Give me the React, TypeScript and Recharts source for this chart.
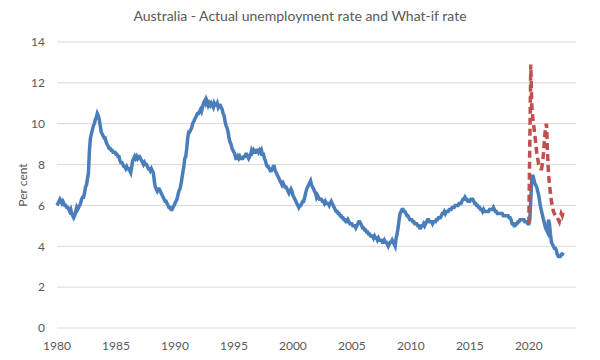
import React from 'react';
import { LineChart, Line, XAxis, YAxis, CartesianGrid } from 'recharts';

// monthly unemployment rate, Jan 1980 .. Dec 2022 (one row per year)
const startYear = 1980;
const actualRate = [
  6.0, 6.1, 6.2, 6.3, 6.2, 6.1, 6.2, 6.1, 6.0, 6.0, 5.9, 5.9, // 1980
  5.8, 5.7, 5.8, 5.6, 5.5, 5.4, 5.5, 5.7, 5.9, 5.8, 5.9, 6.0, // 1981
  6.1, 6.3, 6.4, 6.4, 6.6, 6.9, 7.0, 7.3, 7.6, 8.7, 9.3, 9.5, // 1982
  9.7, 9.9, 10.0, 10.2, 10.3, 10.5, 10.4, 10.2, 9.9, 9.6, 9.5, 9.4, // 1983
  9.3, 9.3, 9.1, 9.0, 8.9, 8.8, 8.8, 8.7, 8.7, 8.6, 8.6, 8.6, // 1984
  8.5, 8.5, 8.4, 8.4, 8.2, 8.1, 8.1, 8.0, 7.9, 7.9, 7.8, 7.9, // 1985
  7.8, 7.8, 7.7, 7.6, 7.9, 8.2, 8.3, 8.4, 8.3, 8.4, 8.3, 8.4, // 1986
  8.4, 8.3, 8.2, 8.1, 8.0, 8.1, 8.0, 8.0, 7.9, 7.8, 7.8, 7.7, // 1987
  7.8, 7.7, 7.6, 7.2, 6.9, 6.8, 6.7, 6.8, 6.8, 6.7, 6.6, 6.5, // 1988
  6.4, 6.3, 6.2, 6.2, 6.1, 6.0, 5.9, 5.9, 5.8, 5.8, 5.9, 6.0, // 1989
  6.1, 6.2, 6.3, 6.5, 6.7, 6.8, 7.0, 7.3, 7.6, 7.9, 8.3, 8.4, // 1990
  8.8, 9.3, 9.6, 9.6, 9.7, 9.8, 10.0, 10.1, 10.2, 10.3, 10.4, 10.5, // 1991
  10.5, 10.6, 10.7, 10.6, 10.8, 11.0, 11.1, 11.0, 11.2, 11.1, 10.9, 11.0, // 1992
  10.9, 11.0, 10.9, 10.8, 11.0, 10.9, 10.9, 11.0, 10.8, 10.9, 10.9, 10.8, // 1993
  10.7, 10.5, 10.4, 10.1, 9.9, 9.8, 9.6, 9.3, 9.1, 9.0, 8.8, 8.7, // 1994
  8.6, 8.5, 8.3, 8.3, 8.4, 8.3, 8.4, 8.3, 8.3, 8.3, 8.4, 8.4, // 1995
  8.5, 8.5, 8.4, 8.3, 8.4, 8.5, 8.7, 8.6, 8.7, 8.6, 8.6, 8.7, // 1996
  8.7, 8.6, 8.7, 8.6, 8.7, 8.5, 8.5, 8.3, 8.2, 8.0, 7.9, 7.9, // 1997
  7.8, 7.7, 7.7, 7.8, 7.9, 7.9, 7.7, 7.6, 7.5, 7.4, 7.3, 7.2, // 1998
  7.1, 7.0, 7.1, 7.0, 6.9, 6.9, 6.8, 6.7, 6.6, 6.7, 6.8, 6.7, // 1999
  6.5, 6.4, 6.3, 6.2, 6.1, 6.0, 5.9, 6.0, 6.0, 6.1, 6.2, 6.2, // 2000
  6.4, 6.6, 6.8, 6.9, 7.0, 7.1, 7.2, 7.0, 6.9, 6.8, 6.7, 6.6, // 2001
  6.4, 6.5, 6.4, 6.3, 6.3, 6.3, 6.2, 6.2, 6.1, 6.2, 6.1, 6.1, // 2002
  6.1, 6.0, 6.1, 6.2, 6.1, 6.0, 5.9, 5.8, 5.7, 5.7, 5.6, 5.6, // 2003
  5.5, 5.5, 5.4, 5.4, 5.3, 5.3, 5.2, 5.2, 5.3, 5.2, 5.1, 5.1, // 2004
  5.1, 5.0, 5.0, 5.0, 4.9, 5.0, 5.1, 5.2, 5.2, 5.1, 5.0, 4.9, // 2005
  4.9, 4.8, 4.8, 4.7, 4.7, 4.6, 4.6, 4.5, 4.5, 4.5, 4.4, 4.5, // 2006
  4.4, 4.4, 4.3, 4.4, 4.3, 4.3, 4.3, 4.2, 4.2, 4.3, 4.2, 4.2, // 2007
  4.1, 4.0, 4.1, 4.2, 4.2, 4.3, 4.2, 4.1, 4.0, 4.4, 4.6, 4.9, // 2008
  5.3, 5.6, 5.7, 5.8, 5.8, 5.7, 5.7, 5.6, 5.5, 5.5, 5.4, 5.3, // 2009
  5.3, 5.3, 5.2, 5.2, 5.1, 5.1, 5.1, 5.0, 5.0, 4.9, 4.9, 5.0, // 2010
  5.0, 5.1, 5.0, 5.1, 5.2, 5.3, 5.3, 5.2, 5.2, 5.2, 5.1, 5.2, // 2011
  5.2, 5.2, 5.3, 5.3, 5.4, 5.4, 5.4, 5.5, 5.6, 5.6, 5.7, 5.6, // 2012
  5.7, 5.7, 5.7, 5.8, 5.8, 5.8, 5.9, 5.9, 5.9, 6.0, 6.0, 6.0, // 2013
  6.0, 6.1, 6.1, 6.1, 6.2, 6.3, 6.3, 6.4, 6.3, 6.3, 6.2, 6.2, // 2014
  6.2, 6.3, 6.3, 6.3, 6.2, 6.1, 6.1, 6.0, 6.0, 5.9, 5.9, 5.8, // 2015
  5.8, 5.7, 5.8, 5.7, 5.7, 5.7, 5.7, 5.7, 5.8, 5.8, 5.8, 5.8, // 2016
  5.9, 5.8, 5.7, 5.7, 5.6, 5.6, 5.6, 5.6, 5.6, 5.6, 5.5, 5.5, // 2017
  5.5, 5.5, 5.5, 5.5, 5.4, 5.4, 5.3, 5.1, 5.1, 5.0, 5.0, 5.1, // 2018
  5.1, 5.2, 5.2, 5.3, 5.3, 5.3, 5.3, 5.3, 5.2, 5.2, 5.2, 5.1, // 2019
  5.1, 5.3, 6.3, 7.3, 7.5, 7.3, 7.1, 7.0, 6.9, 6.7, 6.5, 6.2, // 2020
  5.9, 5.7, 5.5, 5.3, 5.1, 4.9, 4.8, 4.7, 5.3, 5.1, 4.6, 4.2, // 2021
  4.1, 4.0, 3.9, 3.9, 3.8, 3.6, 3.5, 3.5, 3.5, 3.6, 3.6, 3.7, // 2022
];

// what-if rate, Jan 2020 .. Dec 2022
const whatIfStartYear = 2020;
const whatIfRate = [
  5.1, 9.0, 12.9, 10.9, 10.3, 9.9, 9.5, 9.1, 8.6, 8.3, 8.0, 7.9, // 2020
  7.8, 7.8, 8.1, 8.6, 9.3, 9.8, 10.0, 8.6, 7.6, 7.0, 6.6, 6.2, // 2021
  6.0, 5.7, 5.6, 5.5, 5.5, 5.4, 5.3, 5.2, 5.4, 5.6, 5.5, 5.7, // 2022
];

const xTicks = [1980, 1985, 1990, 1995, 2000, 2005, 2010, 2015, 2020];
const yTicks = [0, 2, 4, 6, 8, 10, 12, 14];

const whatIfOffset = (whatIfStartYear - startYear) * 12;
const data = actualRate.map((v, i) => ({
  t: startYear + i / 12,
  actual: v,
  whatIf: i >= whatIfOffset ? whatIfRate[i - whatIfOffset] : undefined,
}));

const font = 'Lato, "Open Sans", sans-serif';
const grey = '#595959';

export default function App() {
  return (
    <div style={{ position: 'fixed', left: 0, top: 0, width: 600, height: 360, background: '#fff' }}>
      <div
        style={{
          position: 'absolute', top: 7, left: 0, width: 600, textAlign: 'center',
          fontFamily: font, fontSize: 14, color: grey,
        }}
      >
        Australia - Actual unemployment rate and What-if rate
      </div>
      <LineChart width={600} height={360} data={data} margin={{ top: 42, right: 24, bottom: 2, left: 0 }}>
        <CartesianGrid vertical={false} stroke="#d9d9d9" strokeWidth={1} />
        <XAxis
          dataKey="t"
          type="number"
          domain={[1980, 2024]}
          ticks={xTicks}
          axisLine={false}
          tickLine={false}
          tickMargin={7}
          tick={{ fill: grey, fontSize: 12, fontFamily: font }}
        />
        <YAxis
          width={57}
          domain={[0, 14]}
          ticks={yTicks}
          axisLine={false}
          tickLine={false}
          tickMargin={6}
          tick={{ fill: grey, fontSize: 12, fontFamily: font }}
          label={() => (
            <text
              x={22}
              y={185}
              transform="rotate(-90 22 185)"
              textAnchor="middle"
              dominantBaseline="central"
              fill={grey}
              fontSize={12}
              fontFamily={font}
            >
              Per cent
            </text>
          )}
        />
        <Line
          dataKey="actual"
          stroke="#4a7ebb"
          strokeWidth={3.5}
          dot={false}
          isAnimationActive={false}
        />
        <Line
          dataKey="whatIf"
          stroke="#c0504d"
          strokeWidth={3.5}
          strokeDasharray="7 4"
          dot={false}
          isAnimationActive={false}
        />
      </LineChart>
    </div>
  );
}
